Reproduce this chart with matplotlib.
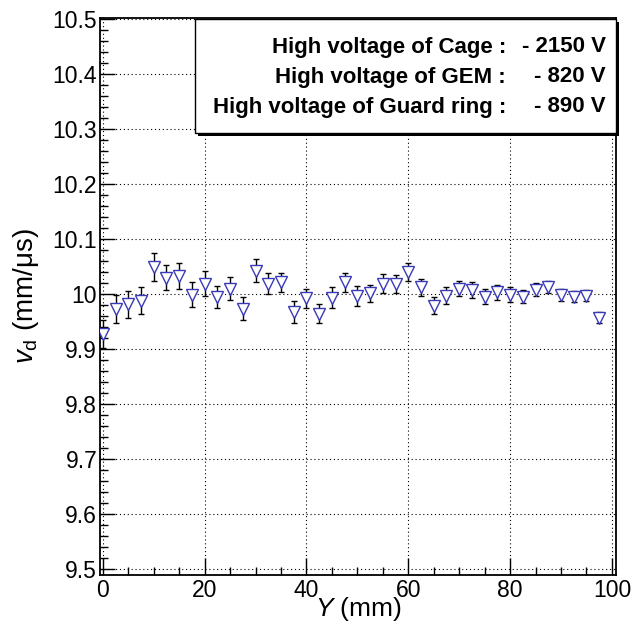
import matplotlib
matplotlib.use("Agg")
import matplotlib.pyplot as plt
from matplotlib.patches import Rectangle
from matplotlib.ticker import MultipleLocator

plt.rcParams['font.family'] = ['Liberation Sans', 'DejaVu Sans']
plt.rcParams['mathtext.fontset'] = 'custom'
plt.rcParams['mathtext.rm'] = 'Liberation Sans'
plt.rcParams['mathtext.it'] = 'Liberation Sans:italic'

# position along Y (mm)
pos_y = [0, 2.5, 5, 7.5, 10, 12.5, 15, 17.5, 20, 22.5,
         25, 27.5, 30, 32.5, 35, 37.5, 40, 42.5, 45, 47.5,
         50, 52.5, 55, 57.5, 60, 62.5, 65, 67.5, 70, 72.5,
         75, 77.5, 80, 82.5, 85, 87.5, 90, 92.5, 95, 97.5]
# drift velocity (mm/us)
vd = [9.927, 9.973, 9.981, 9.988, 10.049, 10.030, 10.033, 9.999, 10.019, 9.994,
      10.010, 9.973, 10.042, 10.019, 10.021, 9.968, 9.992, 9.964, 9.993, 10.021,
      9.996, 10.001, 10.019, 10.018, 10.040, 10.012, 9.979, 9.997, 10.010, 10.007,
      9.995, 10.003, 9.999, 9.995, 10.008, 10.012, 9.999, 9.995, 9.997, 9.957]
vd_err = [0.026, 0.025, 0.025, 0.024, 0.025, 0.023, 0.024, 0.022, 0.023, 0.020,
          0.021, 0.021, 0.021, 0.019, 0.018, 0.020, 0.018, 0.017, 0.019, 0.017,
          0.018, 0.016, 0.017, 0.016, 0.017, 0.015, 0.015, 0.015, 0.014, 0.014,
          0.014, 0.013, 0.013, 0.012, 0.012, 0.011, 0.011, 0.010, 0.010, 0.010]

hv_names = ['High voltage of Cage :', 'High voltage of GEM :',
            'High voltage of Guard ring :']
hv_values = ['- 2150 V', '- 820 V', '- 890 V']

W, H = 632, 625
fig = plt.figure(figsize=(W / 100, H / 100), dpi=100)
ax = fig.add_axes([100 / W, 1 - 575 / H, 516 / W, 557 / H])

ax.errorbar(pos_y, vd, yerr=vd_err, fmt='none', ecolor='black',
            elinewidth=1.0, capsize=2.5, capthick=1.0, zorder=3)
ax.plot(pos_y, vd, linestyle='none', marker='v', markersize=8,
        markerfacecolor='white', markeredgecolor='#3a3ab8',
        markeredgewidth=1.0, zorder=4)

ax.set_xlim(-0.55, 100.8)
ax.set_ylim(9.489, 10.502)
ax.xaxis.set_major_locator(MultipleLocator(20))
ax.xaxis.set_minor_locator(MultipleLocator(5))
ax.yaxis.set_minor_locator(MultipleLocator(0.02))
ax.set_yticks([9.5, 9.6, 9.7, 9.8, 9.9, 10.0, 10.1, 10.2, 10.3, 10.4, 10.5])
ax.set_yticklabels(['9.5', '9.6', '9.7', '9.8', '9.9', '10', '10.1',
                    '10.2', '10.3', '10.4', '10.5'])

ax.tick_params(which='both', direction='in', top=False, right=False,
               labelsize=16.5, width=1.0)
ax.tick_params(axis='y', which='major', length=11, pad=2)
ax.tick_params(axis='y', which='minor', length=6)
ax.tick_params(axis='x', which='major', length=12, pad=3)
ax.tick_params(axis='x', which='minor', length=6)
for s in ax.spines.values():
    s.set_linewidth(1.3)

ax.grid(True, which='major', color='black', linestyle=(0, (1, 2.5)),
        linewidth=0.8)

ax.set_xlabel('$Y$ (mm)', fontsize=19, labelpad=-5)
ax.set_ylabel(r'$v_{\mathrm{d}}$ (mm/μs)', fontsize=20, labelpad=8)

# text box with shadow
fig.patches.append(Rectangle((198 / W, 1 - 136 / H), 421 / W, 114 / H,
                             transform=fig.transFigure, facecolor='black',
                             edgecolor='none', zorder=5))
fig.patches.append(Rectangle((195 / W, 1 - 133 / H), 421 / W, 114 / H,
                             transform=fig.transFigure, facecolor='white',
                             edgecolor='black', linewidth=1.0, zorder=6))
line_y = [47, 77, 107]
for name, val, yy in zip(hv_names, hv_values, line_y):
    fig.text(506 / W, 1 - yy / H, name, ha='right', va='center',
             fontsize=16, fontweight='bold', zorder=7)
    fig.text(606 / W, 1 - yy / H, val, ha='right', va='center',
             fontsize=16, fontweight='bold', zorder=7)

fig.savefig('out.png', dpi=100)
